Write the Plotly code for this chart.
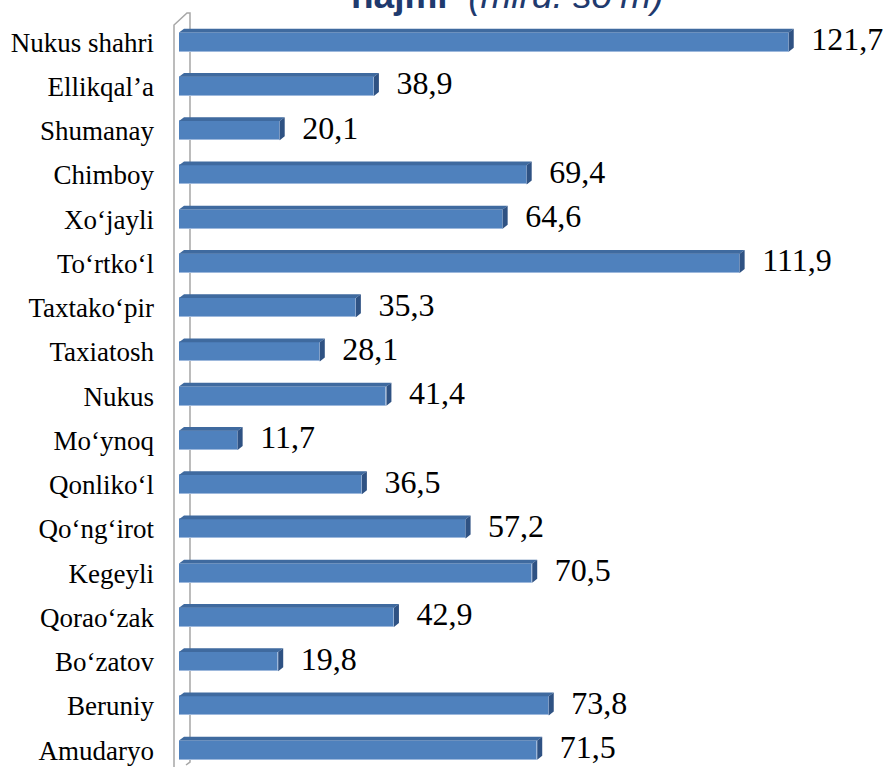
import plotly.graph_objects as go

# ---- data (top to bottom as shown) ----
districts = ["Nukus shahri", "Ellikqal’a", "Shumanay", "Chimboy", "Xo‘jayli", "To‘rtko‘l",
             "Taxtako‘pir", "Taxiatosh", "Nukus", "Mo‘ynoq", "Qonliko‘l", "Qo‘ng‘irot",
             "Kegeyli", "Qorao‘zak", "Bo‘zatov", "Beruniy", "Amudaryo"]
values = [121.7, 38.9, 20.1, 69.4, 64.6, 111.9, 35.3, 28.1, 41.4, 11.7, 36.5, 57.2,
          70.5, 42.9, 19.8, 73.8, 71.5]
value_labels = [f"{v:.1f}".replace(".", ",") for v in values]
title_text = "<b>hajmi</b>  <i>(mlrd. so‘m)</i>"

SERIF = "Liberation Serif"

# ---- layout geometry ----
W, H = 895, 767
L, T = 179, 20
PW, PH = W - L, H - T
PX_PER_UNIT = 5.01
ROW = 44.25
XMAX = PW / PX_PER_UNIT
idx = list(range(len(districts)))

half = 0.215          # half bar thickness (category units)
dx = 1.0              # 3D depth in x units
dy = 0.09             # 3D depth in category units

def px2paper_x(p):
    return (p - L) / PW

def px2paper_y(p):
    return (H - p) / PH

fig = go.Figure()

# front faces
fig.add_trace(go.Bar(
    x=values, y=idx, orientation="h", width=2 * half, base=0,
    marker=dict(color="#4F81BD", line=dict(color="#9DB8DC", width=1)),
    hoverinfo="skip", showlegend=False))

# top and side faces derived from the values
top_x, top_y, side_x, side_y = [], [], [], []
for i, v in zip(idx, values):
    yt, yb = i - half, i + half
    top_x += [0, v, v + dx, dx, 0, None]
    top_y += [yt, yt, yt - dy, yt - dy, yt, None]
    side_x += [v, v + dx, v + dx, v, v, None]
    side_y += [yt, yt - dy, yb - dy, yb, yt, None]

fig.add_trace(go.Scatter(x=top_x, y=top_y, mode="lines", fill="toself",
                         fillcolor="#3F6A9F", line=dict(width=0, color="#3F6A9F"),
                         hoverinfo="skip", showlegend=False))
fig.add_trace(go.Scatter(x=side_x, y=side_y, mode="lines", fill="toself",
                         fillcolor="#2F5283", line=dict(width=0, color="#2F5283"),
                         hoverinfo="skip", showlegend=False))

# value labels
fig.add_trace(go.Scatter(
    x=[v + dx + 3.5 for v in values], y=idx, mode="text", text=value_labels,
    textposition="middle right",
    textfont=dict(family=SERIF, size=32, color="#000000"),
    cliponaxis=False, hoverinfo="skip", showlegend=False))

# 3D wall outline (decoration)
wall = [(174, 767), (174, 25), (187, 13), (190, 13), (190, 762), (186, 765)]
path = "M " + " L ".join(f"{px2paper_x(a):.5f},{px2paper_y(b):.5f}" for a, b in wall)
fig.add_shape(type="path", path=path, xref="paper", yref="paper",
              line=dict(color="#A6A6A6", width=1.5), layer="below")

fig.add_annotation(text=title_text, xref="paper", yref="paper",
                   x=px2paper_x(507), y=1.0, yanchor="bottom", xanchor="center",
                   yshift=2, showarrow=False,
                   font=dict(family="Liberation Sans", size=37, color="#1F3A6E"))

fig.update_layout(
    width=W, height=H,
    margin=dict(l=L, r=0, t=T, b=0, pad=0, autoexpand=False),
    paper_bgcolor="white", plot_bgcolor="white",
    bargap=0,
    font=dict(family=SERIF),
    xaxis=dict(range=[0, XMAX], visible=False, showgrid=False, zeroline=False,
               automargin=False),
    yaxis=dict(range=[-0.5 + PH / ROW, -0.5], tickmode="array", tickvals=idx,
               ticktext=districts, ticks="", showgrid=False, zeroline=False,
               showline=False, ticklabelstandoff=24, automargin=False,
               tickfont=dict(family=SERIF, size=27, color="#000000")),
)

fig.write_html("out.html", config={"displayModeBar": False},
               post_script="document.body.style.margin='0';document.body.style.padding='0';")
